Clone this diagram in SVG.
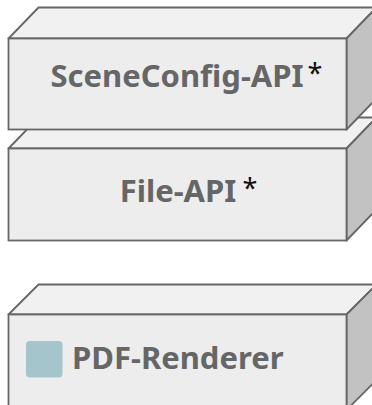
<svg xmlns="http://www.w3.org/2000/svg" width="372" height="405" viewBox="0 0 372 405">
<style>
.front{fill:#ededed;stroke:#666;stroke-width:1.8}
.top{fill:#f1f1f1;stroke:#666;stroke-width:1.8;stroke-linejoin:round}
.side{fill:#c2c2c2;stroke:#666;stroke-width:1.8;stroke-linejoin:round}
.lbl{font-family:"Noto Sans","Open Sans",sans-serif;font-weight:bold;font-size:31px;fill:#666}
.ast{font-family:"Noto Sans","Open Sans",sans-serif;font-size:27px;fill:#111}
</style>
<rect width="372" height="405" fill="#fff"/>
<g id="pdf-renderer">
<polygon class="top" points="8.5,314.5 38.5,284.5 376.5,284.5 346.5,314.5"/>
<polygon class="side" points="346.5,314.5 376.5,284.5 376.5,380 346.5,410"/>
<rect class="front" x="8.5" y="314.5" width="338" height="100"/>
<rect x="26" y="341" width="36.5" height="36.5" rx="4" fill="#a3c5cb"/>
<text class="lbl" x="72" y="369">PDF-Renderer</text>
</g>
<g id="file-api">
<polygon class="top" points="8.5,148.5 38.5,117.5 376.5,117.5 346.5,148.5"/>
<polygon class="side" points="346.5,148.5 376.5,117.5 376.5,209.5 346.5,240.5"/>
<rect class="front" x="8.5" y="148.5" width="338" height="92"/>
<text class="lbl" x="178" y="202" text-anchor="middle">File-API</text>
<text class="ast" x="242.5" y="198">*</text>
</g>
<g id="sceneconfig-api">
<polygon class="top" points="8.5,38.5 38.5,7.5 376.5,7.5 346.5,38.5"/>
<polygon class="side" points="346.5,38.5 376.5,7.5 376.5,98.5 346.5,129.5"/>
<rect class="front" x="8.5" y="38.5" width="338" height="91"/>
<text class="lbl" x="177" y="87" text-anchor="middle">SceneConfig-API</text>
<text class="ast" x="307.5" y="83">*</text>
</g>
<g id="connectors"/>
</svg>
